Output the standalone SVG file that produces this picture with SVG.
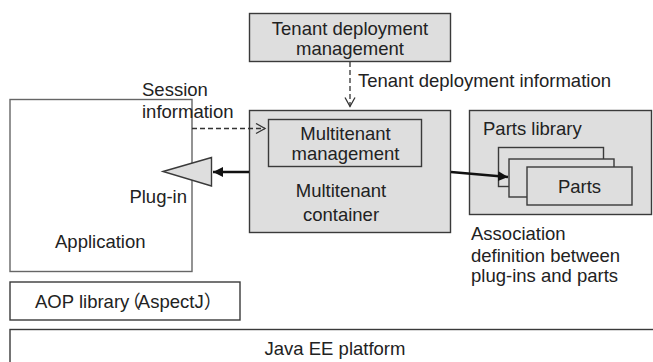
<svg xmlns="http://www.w3.org/2000/svg" width="653" height="362" viewBox="0 0 653 362">
<style>
text{font-family:"Liberation Sans",Arial,"Noto Sans CJK JP",sans-serif;font-size:18.5px;fill:#222}
.c{text-anchor:middle}
.g{fill:#dedede;stroke:#3a3a3a;stroke-width:1.4}
.w{fill:#fff;stroke:#3a3a3a;stroke-width:1.4}
.a{fill:#fff;stroke:#666;stroke-width:1.4}
.d{fill:none;stroke:#333;stroke-width:1.3;stroke-dasharray:5 3}
.t{fill:none;stroke:#111;stroke-width:2.6}
</style>
<defs>
<marker id="open" markerWidth="12" markerHeight="12" refX="10" refY="6" orient="auto" markerUnits="userSpaceOnUse">
<path d="M1,1 L10,6 L1,11" fill="none" stroke="#333" stroke-width="1.3"/>
</marker>
<marker id="solid" markerWidth="12" markerHeight="12" refX="10" refY="6" orient="auto" markerUnits="userSpaceOnUse">
<path d="M0,1 L10,6 L0,11 Z" fill="#111"/>
</marker>
</defs>
<g id="java-ee">
<rect class="w" x="10" y="329.5" width="660" height="50"/>
<text class="c" x="335" y="355">Java EE platform</text>
</g>
<g id="aop">
<rect class="w" x="10" y="282" width="230" height="38"/>
<text x="35" y="308" dx="0 0 0 0 0 0 0 0 0 0 0 -7 -3">AOP library（AspectJ）</text>
</g>
<g id="application">
<rect class="a" x="10" y="99.5" width="182" height="172"/>
<text x="55" y="248">Application</text>
</g>
<g id="plug-in">
<polygon class="g" points="163,171.5 211.5,157.5 211.5,186"/>
<text x="187" y="203" text-anchor="end">Plug-in</text>
</g>
<g id="tenant-deployment">
<rect class="g" x="249.5" y="13.5" width="201" height="48"/>
<text class="c" x="350" y="35">Tenant deployment</text>
<text class="c" x="350" y="55">management</text>
</g>
<g id="multitenant-container">
<rect class="g" x="249.5" y="110.5" width="201" height="122"/>
<text class="c" x="341" y="197">Multitenant</text>
<text class="c" x="341" y="221">container</text>
</g>
<g id="multitenant-management">
<rect class="g" x="268.5" y="119.5" width="153" height="47"/>
<text class="c" x="345.5" y="140">Multitenant</text>
<text class="c" x="345.5" y="160">management</text>
</g>
<g id="parts-library">
<rect class="g" x="469.5" y="110.5" width="182" height="104"/>
<text x="483" y="135">Parts library</text>
</g>
<g id="parts">
<rect class="g" x="498.5" y="147.5" width="105" height="39"/>
<rect class="g" x="509" y="159" width="105" height="38"/>
<rect class="g" x="527" y="167" width="105" height="38"/>
<text class="c" x="579.5" y="193">Parts</text>
</g>
<g id="connectors">
<line class="d" x1="350" y1="62" x2="350" y2="106.5" marker-end="url(#open)"/>
<line class="d" x1="192" y1="128.5" x2="265" y2="128.5" marker-end="url(#open)"/>
<line class="t" x1="249" y1="172" x2="213" y2="172" marker-end="url(#solid)"/>
<line class="t" x1="451" y1="172" x2="508" y2="177" marker-end="url(#solid)"/>
</g>
<g id="labels">
<text x="358" y="87">Tenant deployment information</text>
<text x="142" y="96">Session</text>
<text x="142" y="118">information</text>
<text x="471" y="240">Association</text>
<text x="471" y="262">definition between</text>
<text x="471" y="282">plug-ins and parts</text>
</g>
</svg>
